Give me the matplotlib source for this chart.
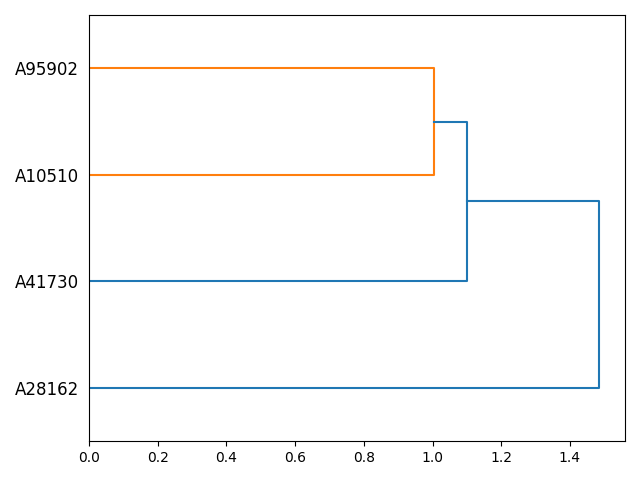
import matplotlib
matplotlib.use("Agg")
import matplotlib.pyplot as plt

# leaves, bottom to top as drawn
labels = ["A28162", "A41730", "A10510", "A95902"]
# merges: (lower node, upper node, distance); new nodes are numbered 4, 5, 6
merges = [(3, 2, 1.003), (4, 1, 1.099), (5, 0, 1.486)]
colors = ["C1", "C0", "C0"]

fig, ax = plt.subplots(figsize=(6.4, 4.8), dpi=100)

# leaf positions like scipy: 5, 15, 25, ...
ypos = {i: 10 * i + 5 for i in range(len(labels))}
xpos = {i: 0.0 for i in range(len(labels))}

for k, (a, b, d) in enumerate(merges):
    node = len(labels) + k
    ax.plot([xpos[a], d, d, xpos[b]], [ypos[a], ypos[a], ypos[b], ypos[b]],
            color=colors[k])
    ypos[node] = (ypos[a] + ypos[b]) / 2
    xpos[node] = d

top = max(m[2] for m in merges)
ax.set_xlim(0, top * 1.05)
ax.set_ylim(0, 10 * len(labels))
ax.set_yticks([10 * i + 5 for i in range(len(labels))])
ax.set_yticklabels(labels, fontsize=12)
for line in ax.get_yticklines():
    line.set_visible(False)

fig.tight_layout()
fig.savefig("out.png")
